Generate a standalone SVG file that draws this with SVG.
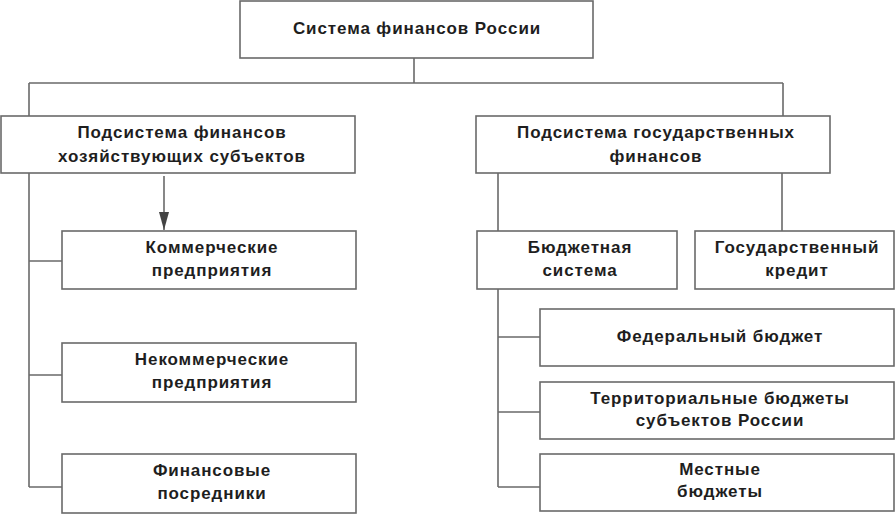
<svg xmlns="http://www.w3.org/2000/svg" width="895" height="514" viewBox="0 0 895 514">
<style>
.box{fill:#fff;stroke:#6a6a6a;stroke-width:1.6}
.ln{fill:none;stroke:#6a6a6a;stroke-width:1.6}
text{font-family:"Liberation Sans",Arial,sans-serif;font-weight:bold;font-size:17px;fill:#1e1e1e;text-anchor:middle;letter-spacing:0.9px}
</style>
<defs>
<marker id="ah" markerWidth="18" markerHeight="10" refX="18" refY="5" orient="auto" markerUnits="userSpaceOnUse" viewBox="0 0 18 10">
<path d="M0,0 L18,5 L0,10 Z" fill="#444"/>
</marker>
</defs>
<g id="connectors">
<path class="ln" d="M414,58 V83 M29,83 H783 M29,83 V116 M783,83 V116"/>
<path class="ln" d="M164,176 V230" marker-end="url(#ah)"/>
<path class="ln" d="M29,173 V487 M29,261 H62 M29,375 H62 M29,487 H62"/>
<path class="ln" d="M498,173 V231 M782,173 V231"/>
<path class="ln" d="M498,289 V487 M498,337 H540 M498,412 H540 M498,487 H540"/>
</g>
<g id="n-root"><rect class="box" x="240" y="1" width="353" height="57"/><text x="417" y="34">Система финансов России</text></g>
<g id="n-firms"><rect class="box" x="1" y="116" width="354" height="57"/><text x="182" y="138">Подсистема финансов</text><text x="182" y="162">хозяйствующих субъектов</text></g>
<g id="n-state"><rect class="box" x="476" y="116" width="354" height="57"/><text x="656" y="138">Подсистема государственных</text><text x="656" y="162">финансов</text></g>
<g id="n-comm"><rect class="box" x="62" y="231" width="294" height="58"/><text x="212" y="253">Коммерческие</text><text x="212" y="276">предприятия</text></g>
<g id="n-noncomm"><rect class="box" x="62" y="343" width="294" height="59"/><text x="212" y="365">Некоммерческие</text><text x="212" y="388">предприятия</text></g>
<g id="n-fin"><rect class="box" x="62" y="454" width="294" height="59"/><text x="212" y="476">Финансовые</text><text x="212" y="499">посредники</text></g>
<g id="n-budget"><rect class="box" x="477" y="231" width="200" height="58"/><text x="580" y="253">Бюджетная</text><text x="580" y="276">система</text></g>
<g id="n-credit"><rect class="box" x="695" y="231" width="199" height="58"/><text x="797" y="253">Государственный</text><text x="797" y="276">кредит</text></g>
<g id="n-fed"><rect class="box" x="540" y="309" width="354" height="57"/><text x="720" y="342">Федеральный бюджет</text></g>
<g id="n-terr"><rect class="box" x="540" y="382" width="354" height="57"/><text x="720" y="404">Территориальные бюджеты</text><text x="720" y="426">субъектов России</text></g>
<g id="n-local"><rect class="box" x="540" y="454" width="354" height="57"/><text x="720" y="475">Местные</text><text x="720" y="497">бюджеты</text></g>
</svg>
